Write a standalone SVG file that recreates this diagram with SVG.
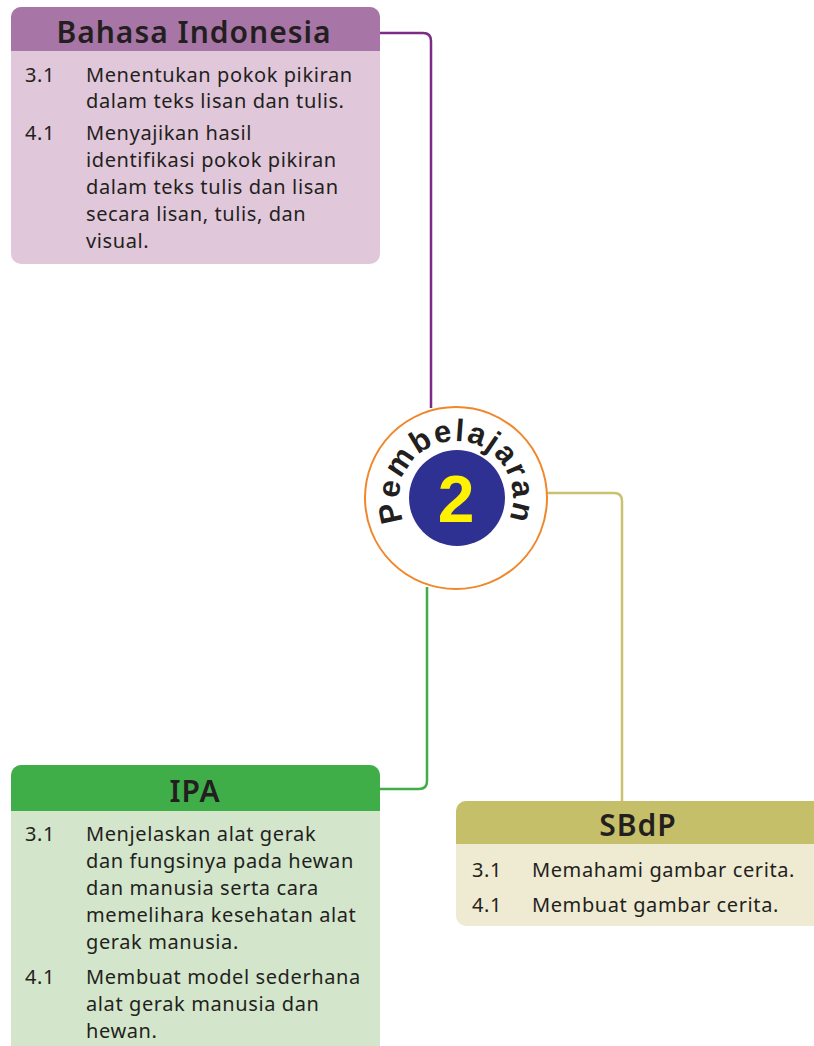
<svg xmlns="http://www.w3.org/2000/svg" width="814" height="1046" viewBox="0 0 814 1046">
<style>
.hd{font-family:"Noto Sans","Open Sans",sans-serif;font-size:30px;fill:#231f20;text-anchor:middle;font-weight:600;letter-spacing:1px}
.tx{font-family:"Noto Sans","Open Sans",sans-serif;font-size:20px;fill:#231f20;letter-spacing:0.6px}
.ln{fill:none;stroke-width:2.5;stroke-linejoin:round}
</style>
<defs>
<clipPath id="cb"><rect x="11" y="7" width="369" height="257" rx="10"/></clipPath>
<clipPath id="ci"><rect x="11" y="765" width="369" height="300" rx="10"/></clipPath>
<clipPath id="cs"><rect x="456" y="801" width="380" height="125" rx="10"/></clipPath>
<path id="arc" d="M406.64,526.5 A57,57 0 1,1 505.36,526.5"/>
</defs>
<rect width="814" height="1046" fill="#ffffff"/>
<g id="connectors">
<path class="ln" stroke="#7d2b86" d="M379,33 H423 Q431,33 431,41 V408"/>
<path class="ln" stroke="#c9c271" d="M547,493 H614 Q622,493 622,501 V802"/>
<path class="ln" stroke="#3fae49" d="M427,587 V781 Q427,789 419,789 H379"/>
</g>
<g id="bahasa-indonesia">
<g clip-path="url(#cb)">
<rect x="11" y="7" width="369" height="257" fill="#e1c7da"/>
<rect x="11" y="7" width="369" height="44" fill="#a776a6"/>
</g>
<text class="hd" x="194" y="43">Bahasa Indonesia</text>
<text class="tx" x="25" y="82">3.1</text>
<text class="tx" x="86" y="82">Menentukan pokok pikiran</text>
<text class="tx" x="86" y="108">dalam teks lisan dan tulis.</text>
<text class="tx" x="25" y="140">4.1</text>
<text class="tx" x="86" y="140">Menyajikan hasil</text>
<text class="tx" x="86" y="167">identifikasi pokok pikiran</text>
<text class="tx" x="86" y="194">dalam teks tulis dan lisan</text>
<text class="tx" x="86" y="221">secara lisan, tulis, dan</text>
<text class="tx" x="86" y="248">visual.</text>
</g>
<g id="pembelajaran-2">
<circle cx="456" cy="498" r="91" fill="#ffffff" stroke="#f0872a" stroke-width="2"/>
<circle cx="457" cy="498" r="48" fill="#2e3192"/>
<text x="456" y="522" font-family="Liberation Sans, Arial, sans-serif" font-weight="bold" font-size="66" fill="#fff200" text-anchor="middle">2</text>
<text font-family="Liberation Sans, Arial, sans-serif" font-weight="bold" font-size="31" fill="#231f20" letter-spacing="2"><textPath href="#arc" startOffset="50%" text-anchor="middle">Pembelajaran</textPath></text>
</g>
<g id="ipa">
<g clip-path="url(#ci)">
<rect x="11" y="765" width="369" height="300" fill="#d3e6cc"/>
<rect x="11" y="765" width="369" height="46" fill="#3fae49"/>
</g>
<text class="hd" x="195" y="802">IPA</text>
<text class="tx" x="25" y="841">3.1</text>
<text class="tx" x="86" y="841">Menjelaskan alat gerak</text>
<text class="tx" x="86" y="868">dan fungsinya pada hewan</text>
<text class="tx" x="86" y="895">dan manusia serta cara</text>
<text class="tx" x="86" y="922">memelihara kesehatan alat</text>
<text class="tx" x="86" y="949">gerak manusia.</text>
<text class="tx" x="25" y="984">4.1</text>
<text class="tx" x="86" y="984">Membuat model sederhana</text>
<text class="tx" x="86" y="1011">alat gerak manusia dan</text>
<text class="tx" x="86" y="1038">hewan.</text>
</g>
<g id="sbdp">
<g clip-path="url(#cs)">
<rect x="456" y="801" width="380" height="125" fill="#efebd3"/>
<rect x="456" y="801" width="380" height="43" fill="#c6bf6a"/>
</g>
<text class="hd" x="638" y="836">SBdP</text>
<text class="tx" x="472" y="877">3.1</text>
<text class="tx" x="532" y="877">Memahami gambar cerita.</text>
<text class="tx" x="472" y="912">4.1</text>
<text class="tx" x="532" y="912">Membuat gambar cerita.</text>
</g>
</svg>
